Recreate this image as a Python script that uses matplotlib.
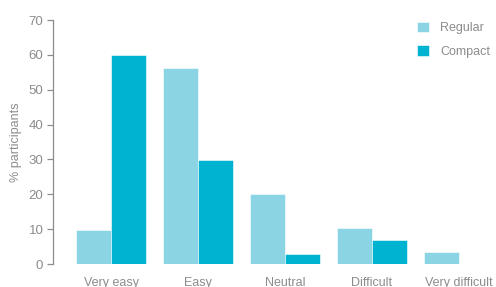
import matplotlib
matplotlib.use("Agg")
import matplotlib.pyplot as plt
import numpy as np

plt.rcParams["font.family"] = ["Liberation Sans", "DejaVu Sans"]

# ── data ─────────────────────────────────────────────
categories = ["Very easy", "Easy", "Neutral", "Difficult", "Very difficult"]
regular = [9.8, 56.2, 20.0, 10.4, 3.4]
compact = [60.0, 29.8, 2.9, 6.9, 0.0]
yticks = [0, 10, 20, 30, 40, 50, 60, 70]

C_REG = "#8AD4E4"
C_CMP = "#00B4D1"
GREY = "#8c8c8c"

fig = plt.figure(figsize=(4.96, 2.87), dpi=100)
ax = fig.add_axes([0.107, 0.0801, 0.893, 0.850])

x = np.arange(len(categories))
w = 0.40
ax.bar(x - w / 2, regular, w, color=C_REG, edgecolor="white", linewidth=0.4, label="Regular")
ax.bar(x + w / 2, compact, w, color=C_CMP, edgecolor="white", linewidth=0.4, label="Compact")

ax.set_xlim(-0.667, 4.425)
ax.set_ylim(0, 70)
ax.set_yticks(yticks)
ax.set_xticks(x)
ax.set_xticklabels(categories)

for s in ["top", "right", "bottom"]:
    ax.spines[s].set_visible(False)
ax.spines["left"].set_color(GREY)
ax.spines["left"].set_linewidth(0.9)
ax.tick_params(axis="y", colors=GREY, labelcolor=GREY, length=4, width=0.9, labelsize=9.5, pad=3)
ax.tick_params(axis="x", length=0, labelcolor=GREY, labelsize=9, pad=9)
ax.set_ylabel("% participants", color=GREY, fontsize=9, labelpad=5)

leg = ax.legend(loc="upper right", frameon=False, fontsize=9, labelcolor=GREY,
                handlelength=0.95, handleheight=0.95, handletextpad=0.9,
                labelspacing=0.85, bbox_to_anchor=(1.012, 1.04))

fig.savefig("out.png", dpi=100)
